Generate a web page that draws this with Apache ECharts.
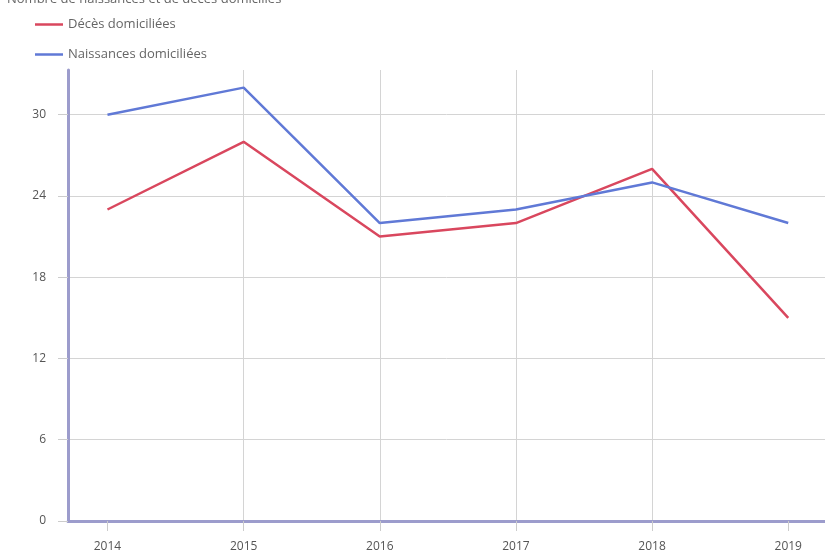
<!DOCTYPE html>
<html><head><meta charset="utf-8">
<script src="https://cdn.jsdelivr.net/npm/echarts@6/dist/echarts.min.js"></script>
<style>html,body{margin:0;padding:0;background:#fff}#c{width:825px;height:559px}</style>
</head><body><div id="c"></div>
<script>
const years = [2014, 2015, 2016, 2017, 2018, 2019];
const deces = [23, 28, 21, 22, 26, 15];
const naissances = [30, 32, 22, 23, 25, 22];
const seriesNames = ['Décès domiciliées', 'Naissances domiciliées'];
const titleText = 'Nombre de naissances et de décès domiciliés';

const chart = echarts.init(document.getElementById('c'));
const pair = (vals) => years.map((y, i) => [y, vals[i]]);
const font = 'Open Sans';
chart.setOption({
  animation: false,
  title: { text: titleText, left: 2, top: -12, textStyle: { fontSize: 13, fontWeight: 'normal', color: '#666', fontFamily: font } },
  legend: {
    orient: 'vertical', left: 30, top: 13, itemGap: 17, itemWidth: 28, itemHeight: 12,
    icon: 'path://M0,5 L28,5 L28,7.5 L0,7.5 Z',
    textStyle: { fontSize: 13, color: '#666', fontFamily: font }
  },
  grid: { left: 68, right: 0, top: 70, bottom: 38, containLabel: false },
  xAxis: {
    type: 'value', min: 2013.71, max: 2019.27, splitNumber: 6,
    axisLine: { show: true, lineStyle: { color: '#9c9ccc', width: 3 } },
    axisTick: { show: true, length: 10, lineStyle: { color: '#ccc' }, customValues: years },
    axisLabel: { customValues: years, formatter: v => String(v), color: '#555', fontSize: 12, fontFamily: font, margin: 20 },
    splitLine: { show: true, showMinLine: false, showMaxLine: false, lineStyle: { color: '#d4d4d4' } }
  },
  yAxis: {
    type: 'value', min: 0, max: 33.3, interval: 6,
    axisLine: { show: true, lineStyle: { color: '#9c9ccc', width: 3 } },
    axisTick: { show: true, length: 10, lineStyle: { color: '#ccc' } },
    axisLabel: { color: '#555', fontSize: 12, fontFamily: font, margin: 22, showMaxLabel: false },
    splitLine: { show: true, showMaxLine: false, lineStyle: { color: '#d4d4d4' } }
  },
  series: [
    { name: seriesNames[0], type: 'line', data: pair(deces), showSymbol: false, symbol: 'none',
      lineStyle: { color: '#d9475e', width: 2.5 }, itemStyle: { color: '#d9475e' } },
    { name: seriesNames[1], type: 'line', data: pair(naissances), showSymbol: false, symbol: 'none',
      lineStyle: { color: '#6079d6', width: 2.5 }, itemStyle: { color: '#6079d6' } }
  ]
});
</script></body></html>
